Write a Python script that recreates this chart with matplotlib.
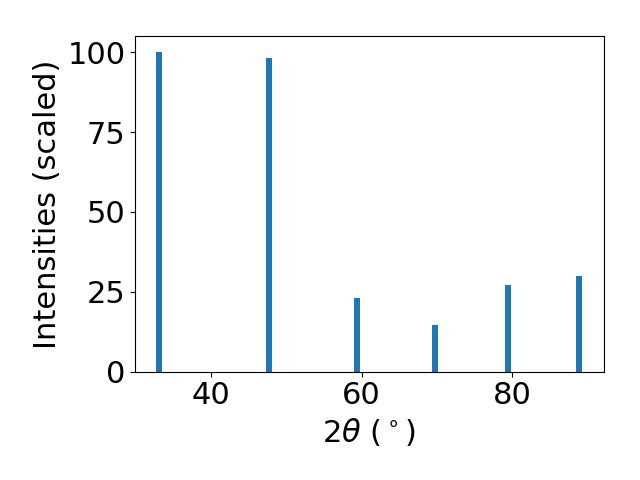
import matplotlib
matplotlib.use('Agg')
import matplotlib.pyplot as plt

two_theta = [33.14, 47.67, 59.37, 69.72, 79.45, 88.9]
intensities = [100.0, 98.4, 23.0, 14.6, 27.1, 29.9]

plt.rcParams['font.size'] = 22

fig, ax = plt.subplots(figsize=(6.4, 4.8), dpi=100)
ax.bar(two_theta, intensities, width=0.8, color='#1f77b4')
ax.set_xlabel(r'$2\theta$ ($^\circ$)')
ax.set_ylabel('Intensities (scaled)')
ax.set_yticks([0, 25, 50, 75, 100])
fig.subplots_adjust(left=0.211, right=0.943, bottom=0.226, top=0.924)
fig.savefig('out.png')
